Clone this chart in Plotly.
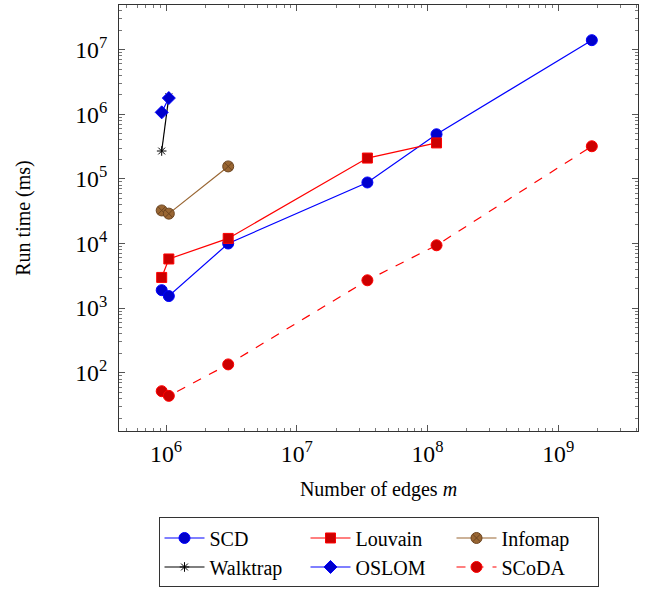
import plotly.graph_objects as go

# Number of edges for the six datasets
edges = [925872, 1049866, 2987624, 34681189, 117185083, 1806067135]

scd_time = [1900, 1540, 10000, 88000, 490000, 14000000]
louvain_time = [2990, 5770, 12000, 210000, 360000]
infomap_time = [32500, 29000, 156000]
walktrap_time = [270000, 1860000]
oslom_time = [1070000, 1780000]
scoda_time = [52, 44, 135, 2700, 9400, 320000]

series = [
    dict(name="SCD", y=scd_time, line=dict(color="#0000ff", width=1.2),
         marker=dict(symbol="circle", size=11, color="#0000cc", line=dict(color="#0000ff", width=1))),
    dict(name="Louvain", y=louvain_time, line=dict(color="#ff0000", width=1.2),
         marker=dict(symbol="square", size=10, color="#cc0000", line=dict(color="#ff0000", width=1))),
    dict(name="Infomap", y=infomap_time, line=dict(color="#996633", width=1.2),
         marker=dict(symbol="circle-x", size=11, color="#996633", line=dict(color="#6b4420", width=1))),
    dict(name="Walktrap", y=walktrap_time, line=dict(color="#000000", width=1.2),
         marker=dict(symbol="asterisk-open", size=8, color="#000000", line=dict(color="#000000", width=1))),
    dict(name="OSLOM", y=oslom_time, line=dict(color="#0000ff", width=1.2),
         marker=dict(symbol="diamond", size=10, color="#0000cc", line=dict(color="#0000ff", width=1))),
    dict(name="SCoDA", y=scoda_time, line=dict(color="#ff0000", width=1.2, dash="dash"),
         marker=dict(symbol="circle", size=11, color="#cc0000", line=dict(color="#ff0000", width=1))),
]

fig = go.Figure()
for s in series:
    fig.add_trace(go.Scatter(
        x=edges[:len(s["y"])], y=s["y"], name=s["name"], mode="lines+markers",
        line=s["line"], marker=s["marker"]))

font_family = "Liberation Serif"
axis_common = dict(
    type="log", showgrid=False, zeroline=False, automargin=False,
    showline=True, linecolor="#333333", linewidth=1, mirror="ticks",
    ticks="inside", ticklen=6, tickcolor="#555555",
    exponentformat="power", dtick=1,
    minor=dict(ticks="inside", ticklen=3, tickcolor="#777777", showgrid=False),
    tickfont=dict(family=font_family, size=19, color="#000000"),
)

fig.update_layout(
    width=646, height=592,
    margin=dict(l=119, r=8, t=5, b=157),
    paper_bgcolor="white", plot_bgcolor="white",
    font=dict(family=font_family, size=19, color="#000000"),
    xaxis=dict(axis_common, range=[5.64, 9.61], ticklabelstandoff=2,
               title=dict(text="Number of edges <i>m</i>", font=dict(family=font_family, size=20), standoff=16)),
    yaxis=dict(axis_common, range=[1.1, 7.69], ticklabelstandoff=7,
               title=dict(text="Run time (ms)", font=dict(family=font_family, size=20), standoff=39)),
    legend=dict(orientation="h", x=0.5, xanchor="center", y=-0.203, yanchor="top",
                bordercolor="#333333", borderwidth=1, bgcolor="white",
                entrywidth=91, tracegroupgap=0, itemwidth=40,
                font=dict(family=font_family, size=20)),
    showlegend=True,
)

fig.write_html("out.html", config={"displayModeBar": False},
               post_script="document.body.style.margin='0';")
